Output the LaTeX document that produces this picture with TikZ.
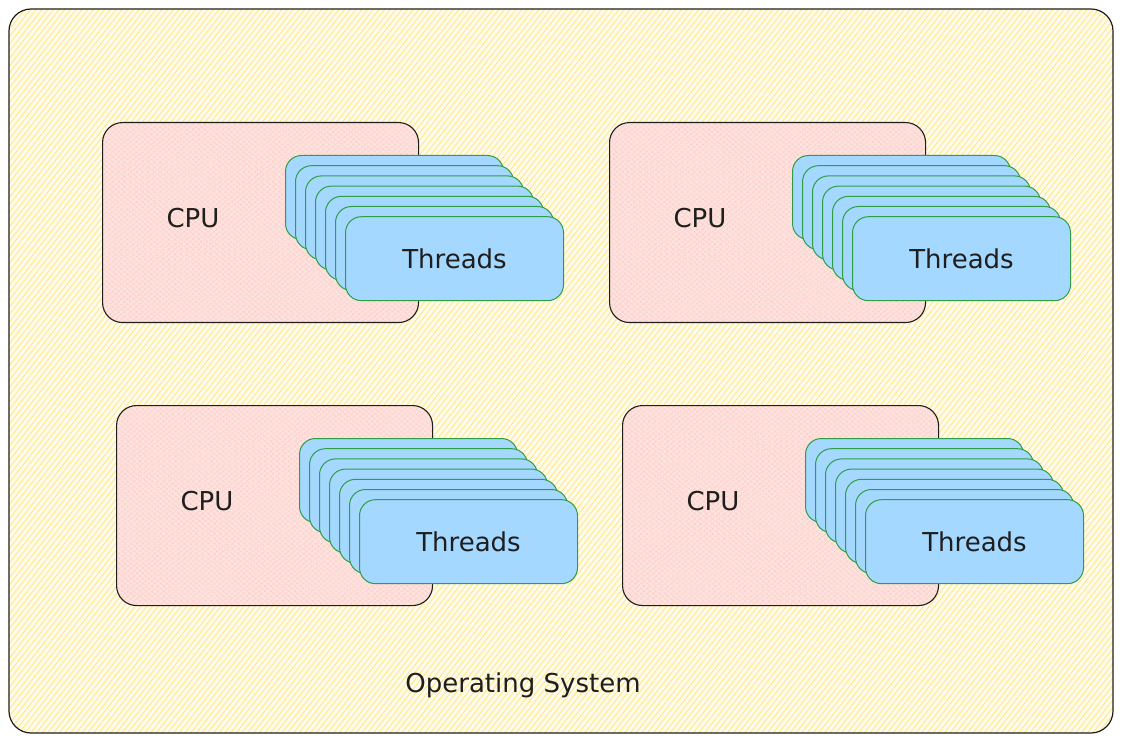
\documentclass[tikz,border=0pt]{standalone}
\usepackage{fontspec}
\setmainfont{DejaVu Sans}
\usetikzlibrary{patterns.meta}
\definecolor{osyellow}{HTML}{FFE680}
\definecolor{ospale}{HTML}{FFFBEA}
\definecolor{cpupink}{HTML}{FFAFAF}
\definecolor{cpupale}{HTML}{FDE3DE}
\definecolor{thrblue}{HTML}{A5D8FF}
\definecolor{thrgreen}{HTML}{2F9E44}
\definecolor{ink}{HTML}{1E1E1E}
\tikzset{
  osbox/.style={draw=ink, line width=1.2pt, rounded corners=22pt,
    minimum width=1104pt, minimum height=724pt, inner sep=0pt,
    preaction={fill=ospale},
    preaction={pattern={Lines[angle=52,distance=4.5pt,line width=0.8pt]}, pattern color=osyellow}},
  cpubox/.style={draw=ink, line width=1.1pt, rounded corners=20pt,
    minimum width=316pt, minimum height=200pt, inner sep=0pt,
    preaction={fill=cpupale},
    preaction={pattern={Lines[angle=40,distance=4pt,line width=0.5pt]}, pattern color=cpupink},
    preaction={pattern={Lines[angle=-40,distance=4pt,line width=0.5pt]}, pattern color=cpupink}},
  thrbox/.style={draw=thrgreen, line width=1pt, rounded corners=16pt, fill=thrblue,
    minimum width=218pt, minimum height=84pt, inner sep=0pt},
  lbl/.style={font=\fontsize{26}{30}\selectfont, text=ink}
}
\begin{document}
\begin{tikzpicture}[x=1pt,y=-1pt]
\useasboundingbox (0,0) rectangle (1122,743);
\fill[white] (0,0) rectangle (1122,743);
\node[osbox] (os) at (561,371) {};
\foreach \g/\x/\y in {1/102/122, 2/609/122, 3/116/405, 4/622/405} {
  \node[cpubox, anchor=north west] (cpu\g) at (\x,\y) {};
  \node[lbl] (cpulbl\g) at (\x+91,\y+96) {CPU};
  \foreach \i in {0,...,6} {
    \node[thrbox, anchor=north west] (thr\g-\i) at (\x+183+10*\i, \y+33+10.2*\i) {};
  }
  \node[lbl] (thrlbl\g) at (thr\g-6.center) {Threads};
}
\node[lbl] (oslbl) at (523,685) {Operating System};
\end{tikzpicture}
\end{document}
